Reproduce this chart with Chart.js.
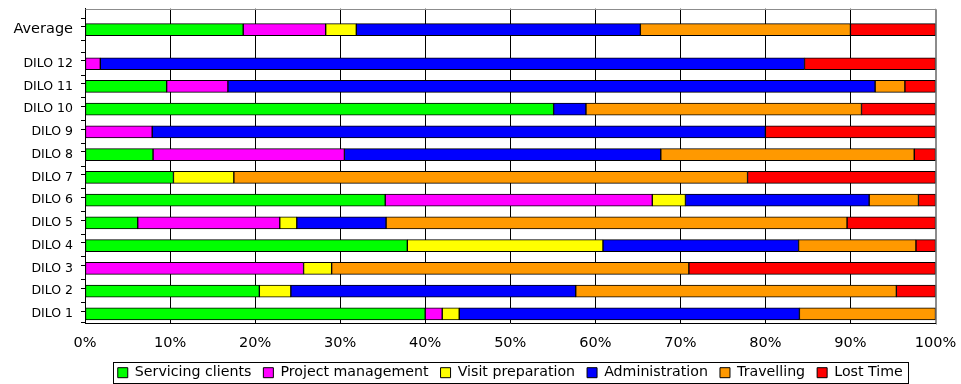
<!DOCTYPE html>
<html>
<head>
<meta charset="utf-8">
<script src="https://cdn.jsdelivr.net/npm/chart.js@4.4.1/dist/chart.umd.min.js"></script>
<style>
  body { margin: 0; background: #fff; }
  #wrap { width: 961px; height: 384px; position: relative; }
</style>
</head>
<body>
<div id="wrap"><canvas id="dilo-chart"></canvas></div>
<script>
// rows, top to bottom
const categories = ["Average", "DILO 12", "DILO 11", "DILO 10", "DILO 9", "DILO 8", "DILO 7",
  "DILO 6", "DILO 5", "DILO 4", "DILO 3", "DILO 2", "DILO 1"];

// share of the day (%) per activity
const servicing = [18.6, 0, 9.6, 55.1, 0, 8.0, 10.4, 35.3, 6.2, 37.9, 0, 20.5, 40.0];
const project = [9.7, 1.8, 7.2, 0, 7.9, 22.5, 0, 31.4, 16.7, 0, 25.7, 0, 2.0];
const visit = [3.6, 0, 0, 0, 0, 0, 7.1, 3.9, 2.0, 23.0, 3.3, 3.7, 2.0];
const admin = [33.4, 82.8, 76.1, 3.8, 72.1, 37.2, 0, 21.6, 10.5, 23.0, 0, 33.5, 40.0];
const travel = [24.7, 0, 3.5, 32.4, 0, 29.8, 60.4, 5.8, 54.2, 13.8, 42.0, 37.7, 16.0];
const lost = [10.0, 15.4, 3.6, 8.7, 20.0, 2.5, 22.1, 2.0, 10.4, 2.3, 29.0, 4.6, 0];

const xTicks = [0, 10, 20, 30, 40, 50, 60, 70, 80, 90, 100];

// row slots on the y axis: DILO 1 at 0 upward, Average sits half a slot higher
const avgGap = 0.5;
const rowY = categories.map((c, i) =>
  i === 0 ? categories.length - 1 + avgGap : categories.length - 1 - i);

const toPoints = (arr) => arr.map((v, i) => ({ x: v, y: rowY[i] }));

const series = [
  { label: "Servicing clients", data: servicing, color: "#00ff00" },
  { label: "Project management", data: project, color: "#ff00ff" },
  { label: "Visit preparation", data: visit, color: "#ffff00" },
  { label: "Administration", data: admin, color: "#0000ff" },
  { label: "Travelling", data: travel, color: "#ff9900" },
  { label: "Lost Time", data: lost, color: "#ff0000" },
];

Chart.defaults.color = "#000";
Chart.defaults.font.family = "'DejaVu Sans', sans-serif";

// grey frame on top/right of the plot, like the Excel plot area
const plotFrame = {
  id: "plotFrame",
  beforeDatasetsDraw(chart) {
    const { ctx, chartArea: a } = chart;
    ctx.save();
    ctx.strokeStyle = "#8c8c8c";
    ctx.lineWidth = 1;
    ctx.beginPath();
    ctx.moveTo(Math.round(a.left) + 0.5, Math.round(a.top) + 0.5);
    ctx.lineTo(Math.round(a.right) + 0.5, Math.round(a.top) + 0.5);
    ctx.lineTo(Math.round(a.right) + 0.5, Math.round(a.bottom) + 0.5);
    ctx.stroke();
    ctx.restore();
  },
};

// box around the legend
const legendBox = {
  id: "legendBox",
  afterDraw(chart) {
    const hb = chart.legend.legendHitBoxes;
    if (!hb || !hb.length) return;
    const last = hb[hb.length - 1];
    const left = Math.round(hb[0].left - 5) + 0.5;
    const right = Math.round(last.left + last.width + 5) + 0.5;
    const cy = hb[0].top + hb[0].height / 2;
    const top = Math.round(cy - 11) + 0.5;
    const { ctx } = chart;
    ctx.save();
    ctx.strokeStyle = "#000";
    ctx.lineWidth = 1;
    ctx.strokeRect(left, top, right - left, 21);
    ctx.restore();
  },
};

new Chart(document.getElementById("dilo-chart").getContext("2d"), {
  type: "bar",
  data: {
    datasets: series.map((s) => ({
      label: s.label,
      data: toPoints(s.data),
      backgroundColor: s.color,
      borderColor: "#000",
      borderWidth: 1,
      borderSkipped: false,
      barThickness: 12,
    })),
  },
  options: {
    indexAxis: "y",
    responsive: true,
    maintainAspectRatio: false,
    animation: false,
    layout: { padding: { left: 0, right: 25.5, top: 8.7, bottom: -5.8 } },
    scales: {
      x: {
        type: "linear",
        stacked: true,
        min: 0,
        max: 100,
        afterBuildTicks: (scale) => {
          scale.ticks = xTicks.map((v) => ({ value: v }));
        },
        afterFit: (scale) => {
          scale.height = 30;
          scale.paddingLeft = 0;
          scale.paddingRight = 0;
        },
        grid: {
          color: (ctx) => (ctx.tick && ctx.tick.value === 100 ? "#8c8c8c" : "#000"),
          drawTicks: true,
          tickLength: 11,
          tickColor: "rgba(0,0,0,0)",
        },
        border: { display: true, color: "#000" },
        ticks: {
          padding: 0,
          font: { size: 14.5 },
          callback: (v) => v + "%",
        },
      },
      y: {
        type: "linear",
        stacked: true,
        min: -0.26,
        max: 13.25,
        afterBuildTicks: (scale) => {
          const marks = [];
          for (let v = -0.25; v <= 13.25; v += 0.5) marks.push(v);
          const all = marks.concat(rowY).sort((a, b) => a - b);
          scale.ticks = all.map((v) => ({ value: v }));
        },
        afterFit: (scale) => {
          scale.width = 85;
          scale.paddingTop = 0;
          scale.paddingBottom = 0;
        },
        grid: {
          drawOnChartArea: false,
          drawTicks: true,
          tickLength: 4,
          tickColor: (ctx) =>
            ctx.tick && rowY.includes(ctx.tick.value) ? "rgba(0,0,0,0)" : "#000",
        },
        border: { display: true, color: "#000" },
        ticks: {
          autoSkip: false,
          padding: 8,
          font: (ctx) => {
            const v = ctx.tick ? ctx.tick.value : null;
            if (v === rowY[0]) return { size: 14.5 };
            return { size: rowY.includes(v) ? 12.5 : 1 };
          },
          callback: (v) => {
            const i = rowY.indexOf(v);
            return i >= 0 ? categories[i] : "";
          },
        },
      },
    },
    plugins: {
      legend: {
        position: "bottom",
        fullSize: false,
        labels: {
          boxWidth: 10,
          boxHeight: 10,
          padding: 12,
          font: { size: 14.2 },
          color: "#000",
        },
      },
      tooltip: { enabled: false },
    },
  },
  plugins: [plotFrame, legendBox],
});
</script>
</body>
</html>
